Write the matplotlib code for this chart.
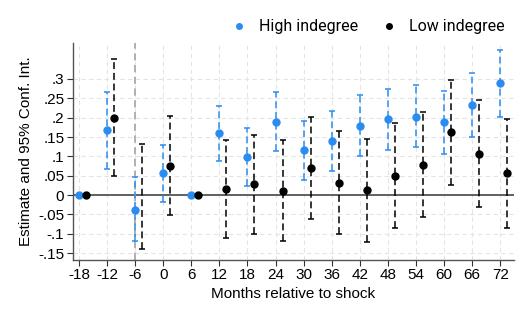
import numpy as np
import matplotlib
matplotlib.use("Agg")
import matplotlib.pyplot as plt
from matplotlib.lines import Line2D

months = [-18, -12, -6, 0, 6, 12, 18, 24, 30, 36, 42, 48, 54, 60, 66, 72]

high_est = [0, 0.168, -0.038, 0.057, 0, 0.160, 0.099, 0.189, 0.116, 0.140, 0.179, 0.196, 0.203, 0.188, 0.233, 0.289]
high_lo = [np.nan, 0.068, -0.119, -0.017, np.nan, 0.089, 0.024, 0.113, 0.038, 0.061, 0.100, 0.116, 0.123, 0.105, 0.150, 0.203]
high_hi = [np.nan, 0.267, 0.046, 0.130, np.nan, 0.231, 0.174, 0.266, 0.192, 0.217, 0.258, 0.275, 0.284, 0.270, 0.316, 0.374]

low_est = [0, 0.200, np.nan, 0.076, 0, 0.0155, 0.028, 0.011, 0.070, 0.031, 0.012, 0.050, 0.077, 0.162, 0.107, 0.056]
low_lo = [np.nan, 0.049, -0.140, -0.052, np.nan, -0.112, -0.100, -0.120, -0.062, -0.100, -0.122, -0.085, -0.057, 0.027, -0.030, -0.085]
low_hi = [np.nan, 0.352, 0.133, 0.204, np.nan, 0.143, 0.156, 0.143, 0.202, 0.166, 0.146, 0.185, 0.214, 0.298, 0.245, 0.197]

yticks = [-0.15, -0.1, -0.05, 0, 0.05, 0.1, 0.15, 0.2, 0.25, 0.3]
ytick_labels = ["-.15", "-.1", "-.05", "0", ".05", ".1", ".15", ".2", ".25", ".3"]
series_names = ["High indegree", "Low indegree"]

plt.rcParams['font.family'] = ['Liberation Sans', 'DejaVu Sans']

fig = plt.figure(figsize=(5.26, 3.16), dpi=100)
ax = fig.add_axes([0.138, 0.177, 0.839, 0.687])

blue = '#2b8cf0'
offset = 1.5

ax.set_xlim(-19.35, 74.9)
ax.set_ylim(-0.168, 0.393)

for t in months:
    ax.axvline(t, color='#e4e4e4', lw=0.8, ls=(0, (4, 3)), zorder=0)
for t in yticks:
    ax.axhline(t, color='#e4e4e4', lw=0.8, ls=(0, (4, 3)), zorder=0)

ax.axhline(0, color='#555555', lw=1.3, zorder=1)
ax.axvline(-6, color='#aaaaaa', lw=1.3, ls=(0, (4, 2.5)), zorder=1)

m = np.array(months, dtype=float)

def draw(xs, est, lo, hi, color):
    est = np.array(est); lo = np.array(lo); hi = np.array(hi)
    ok = ~np.isnan(lo)
    ax.vlines(xs[ok], lo[ok], hi[ok], colors=color, lw=1.1, linestyles=(0, (4.5, 2.5)), zorder=2)
    ax.plot(xs[ok], lo[ok], ls='none', marker='_', ms=4, mew=1.1, color=color, zorder=2)
    ax.plot(xs[ok], hi[ok], ls='none', marker='_', ms=4, mew=1.1, color=color, zorder=2)
    ax.plot(xs, est, ls='none', marker='o', ms=5.0, color=color, zorder=3)

draw(m, high_est, high_lo, high_hi, blue)
draw(m + offset, low_est, low_lo, low_hi, 'black')

ax.set_xticks(months)
ax.set_xticklabels([str(v) for v in months], fontsize=11)
ax.set_yticks(yticks)
ax.set_yticklabels(ytick_labels, fontsize=11)
ax.tick_params(axis='both', length=4, width=0.8, color='#333333', pad=2)

for s in ['top', 'right']:
    ax.spines[s].set_visible(False)
for s in ['left', 'bottom']:
    ax.spines[s].set_color('#555555')
    ax.spines[s].set_linewidth(1.0)

ax.set_xlabel("Months relative to shock", fontsize=11, labelpad=3)
ax.set_ylabel("Estimate and 95% Conf. Int.", fontsize=11, labelpad=4)

handles = [Line2D([], [], ls='none', marker='o', ms=4, color=blue),
           Line2D([], [], ls='none', marker='o', ms=4, color='black')]
fig.legend(handles, series_names, loc='center', bbox_to_anchor=(0.699, 0.915), ncol=2,
           frameon=False, handlelength=1.0, handletextpad=0.75, columnspacing=1.4,
           prop={'family': ['Roboto', 'DejaVu Sans'], 'size': 11.5})

fig.savefig("out.png", dpi=100)
